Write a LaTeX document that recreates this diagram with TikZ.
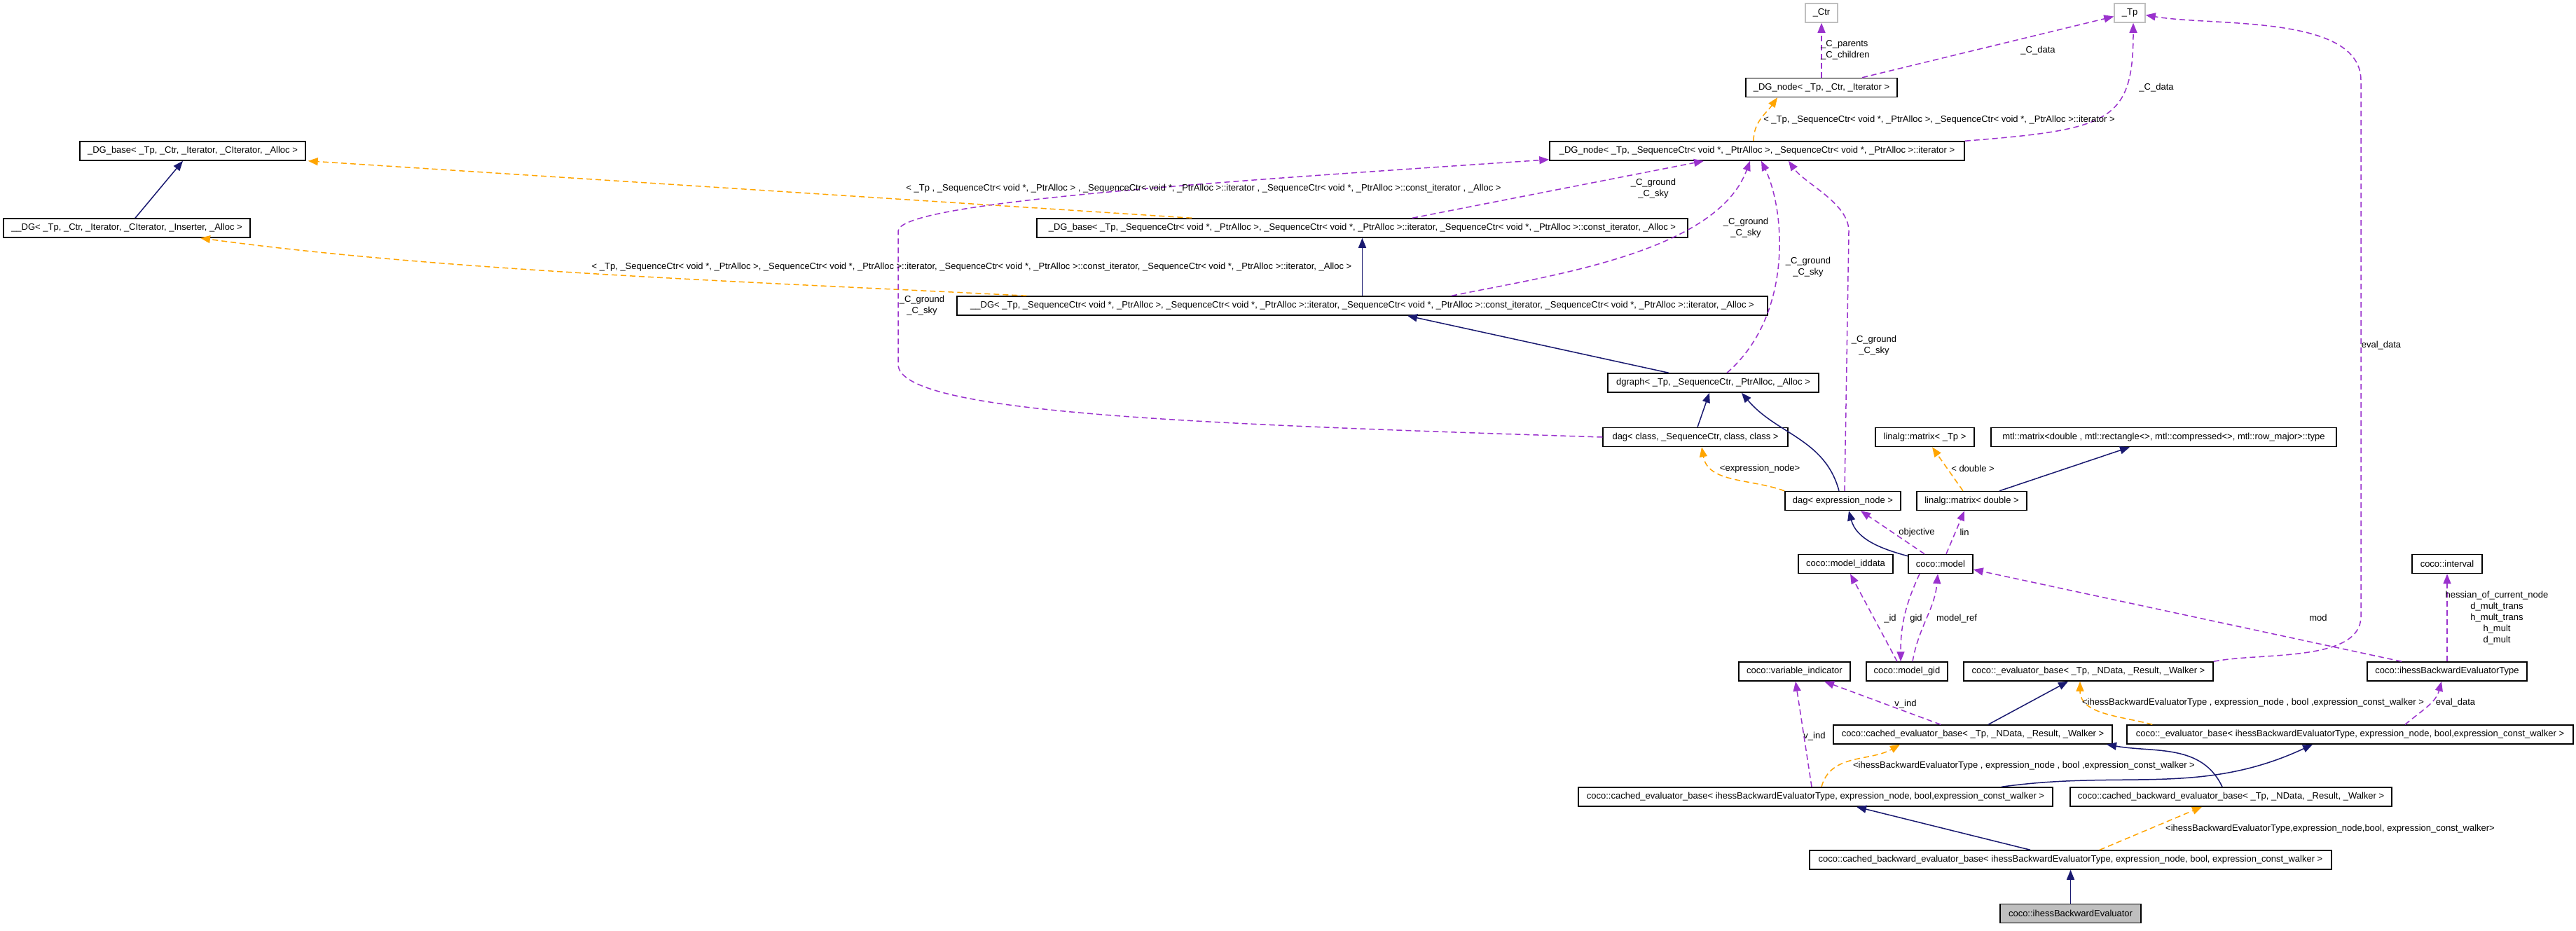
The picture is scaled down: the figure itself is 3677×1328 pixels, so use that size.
\documentclass[tikz,border=0pt]{standalone}
\usepackage{fontspec}
\setmainfont{Liberation Sans}
\definecolor{dxnavy}{RGB}{25,25,112}
\definecolor{dxpurple}{RGB}{154,50,205}
\definecolor{dxorange}{RGB}{255,165,0}
\definecolor{dxgray}{RGB}{191,191,191}
\usetikzlibrary{arrows.meta}

\begin{document}
\begin{tikzpicture}[x=1pt,y=1pt,font=\fontsize{13}{16}\selectfont,
  cls/.style={draw=black,line width=1.5pt,fill=white,minimum height=27pt,inner xsep=2pt,inner ysep=0pt},
  ext/.style={cls,draw=dxgray},
  cur/.style={cls,fill=dxgray},
  inh/.style={-{Triangle[length=14pt,width=11pt]},dxnavy,line width=1.5pt},
  tpl/.style={-{Triangle[length=14pt,width=11pt]},dxorange,line width=1.5pt,dash pattern=on 8pt off 5pt},
  member/.style={-{Triangle[length=14pt,width=11pt]},dxpurple,line width=1.5pt,dash pattern=on 8pt off 5pt},
  lbl/.style={inner sep=0pt,align=center}]
  \fill[white] (0,0) rectangle (3677,-1328);
  \useasboundingbox (0,0) rectangle (3677,-1328);

  % classes
  \node[ext,minimum width=46pt] (ctr) at (2600,-18.5) {\_Ctr};
  \node[ext,minimum width=44pt] (tp) at (3040,-18.5) {\_Tp};
  \node[cls,minimum width=216pt] (dgnodectr) at (2600,-125) {\_DG\_node< \_Tp, \_Ctr, \_Iterator >};
  \node[cls,minimum width=592pt] (dgnode) at (2508,-215.5) {\_DG\_node< \_Tp, \_SequenceCtr< void *, \_PtrAlloc >, \_SequenceCtr< void *, \_PtrAlloc >::iterator >};
  \node[cls,minimum width=322pt] (dgbase) at (275,-215.5) {\_DG\_base< \_Tp, \_Ctr, \_Iterator, \_CIterator, \_Alloc >};
  \node[cls,minimum width=352pt] (dg) at (181,-325.5) {\_\_DG< \_Tp, \_Ctr, \_Iterator, \_CIterator, \_Inserter, \_Alloc >};
  \node[cls,minimum width=929pt] (dgbaseseq) at (1944.5,-325.5) {\_DG\_base< \_Tp, \_SequenceCtr< void *, \_PtrAlloc >, \_SequenceCtr< void *, \_PtrAlloc >::iterator, \_SequenceCtr< void *, \_PtrAlloc >::const\_iterator, \_Alloc >};
  \node[cls,minimum width=1157pt] (dgseq) at (1944.5,-436.5) {\_\_DG< \_Tp, \_SequenceCtr< void *, \_PtrAlloc >, \_SequenceCtr< void *, \_PtrAlloc >::iterator, \_SequenceCtr< void *, \_PtrAlloc >::const\_iterator, \_SequenceCtr< void *, \_PtrAlloc >::iterator, \_Alloc >};
  \node[cls,minimum width=301pt] (dgraph) at (2445.5,-546.5) {dgraph< \_Tp, \_SequenceCtr, \_PtrAlloc, \_Alloc >};
  \node[cls,minimum width=264pt] (dagclass) at (2420,-624) {dag< class, \_SequenceCtr, class, class >};
  \node[cls,minimum width=165pt] (dagexpr) at (2630.5,-715) {dag< expression\_node >};
  \node[cls,minimum width=141pt] (linalgtp) at (2747.5,-624) {linalg::matrix< \_Tp >};
  \node[cls,minimum width=493pt] (mtlmatrix) at (3088.5,-624) {mtl::matrix<double , mtl::rectangle<>, mtl::compressed<>, mtl::row\_major>::type};
  \node[cls,minimum width=157pt] (linalgdbl) at (2814.5,-715) {linalg::matrix< double >};
  \node[cls,minimum width=135pt] (iddata) at (2634.5,-805) {coco::model\_iddata};
  \node[cls,minimum width=92pt] (model) at (2770,-805) {coco::model};
  \node[cls,minimum width=100pt] (interval) at (3493,-805) {coco::interval};
  \node[cls,minimum width=159pt] (varind) at (2561.5,-958.5) {coco::variable\_indicator};
  \node[cls,minimum width=116pt] (modelgid) at (2722,-958.5) {coco::model\_gid};
  \node[cls,minimum width=356pt] (evalbasetp) at (2981,-958.5) {coco::\_evaluator\_base< \_Tp, \_NData, \_Result, \_Walker >};
  \node[cls,minimum width=228pt] (ihesstype) at (3493,-958.5) {coco::ihessBackwardEvaluatorType};
  \node[cls,minimum width=398pt] (cachedtp) at (2816,-1048.5) {coco::cached\_evaluator\_base< \_Tp, \_NData, \_Result, \_Walker >};
  \node[cls,minimum width=637pt] (evalbaseih) at (3354.5,-1048.5) {coco::\_evaluator\_base< ihessBackwardEvaluatorType, expression\_node, bool,expression\_const\_walker >};
  \node[cls,minimum width=677pt] (cachedih) at (2591.5,-1137.5) {coco::cached\_evaluator\_base< ihessBackwardEvaluatorType, expression\_node, bool,expression\_const\_walker >};
  \node[cls,minimum width=459pt] (cbacktp) at (3184.5,-1137.5) {coco::cached\_backward\_evaluator\_base< \_Tp, \_NData, \_Result, \_Walker >};
  \node[cls,minimum width=745pt] (cbackih) at (2955.5,-1227.5) {coco::cached\_backward\_evaluator\_base< ihessBackwardEvaluatorType, expression\_node, bool, expression\_const\_walker >};
  \node[cur,minimum width=201pt] (ihesseval) at (2955.5,-1304) {coco::ihessBackwardEvaluator};

  % bends of the long connectors
  \coordinate (evalbend) at (3370,-880);
  \coordinate (evaltop) at (3370,-115);
  \coordinate (cgtop) at (2639,-330);
  \coordinate (cgleft) at (1282,-520);
  \coordinate (cgleftup) at (1282,-330);

  % inheritance
  \draw[inh] ([xshift=12pt]dg.north) -- ([xshift=-14pt]dgbase.south);
  \draw[inh] (dgseq.north) -- (dgbaseseq.south);
  \draw[inh] ([xshift=-63.5pt]dgraph.north) -- ([xshift=64.5pt]dgseq.south);
  \draw[inh] ([xshift=3pt]dagclass.north) -- ([xshift=-5.5pt]dgraph.south);
  \draw[inh] ([xshift=-5.5pt]dagexpr.north) to[out=105,in=-50] ([xshift=40.5pt]dgraph.south);
  \draw[inh] ([xshift=39.5pt]linalgdbl.north) -- ([xshift=-48.5pt]mtlmatrix.south);
  \draw[inh] ([yshift=-3pt]model.north west) to[out=165,in=-75] ([xshift=8.5pt]dagexpr.south);
  \draw[inh] ([xshift=22pt]cachedtp.north) -- ([xshift=-29pt]evalbasetp.south);
  \draw[inh] ([xshift=-12.5pt]cbacktp.north) to[out=115,in=-10] ([xshift=191pt]cachedtp.south);
  \draw[inh] ([xshift=265.5pt]cachedih.north) to[out=8,in=-155] ([xshift=-53.5pt]evalbaseih.south);
  \draw[inh] ([xshift=-57.5pt]cbackih.north) -- ([xshift=58.5pt]cachedih.south);
  \draw[inh] (ihesseval.north) -- (cbackih.south);

  % template instances
  \draw[tpl] ([xshift=100pt]dgseq.north west) .. controls (1111,-404) and (638,-388) .. ([xshift=105pt]dg.south);
  \draw[tpl] ([xshift=222pt]dgbaseseq.north west) -- ([xshift=3pt]dgbase.south east);
  \draw[tpl] ([xshift=-5pt]dgnode.north) to[out=90,in=-125] ([xshift=-63pt]dgnodectr.south);
  \draw[tpl] (dagexpr.north west) to[out=160,in=-80] ([xshift=9pt]dagclass.south);
  \draw[tpl] ([xshift=-12.5pt]linalgdbl.north) -- ([xshift=10.5pt]linalgtp.south);
  \draw[tpl] ([xshift=8.5pt]cachedih.north) to[out=75,in=-150] ([xshift=-104pt]cachedtp.south);
  \draw[tpl] ([xshift=37pt]evalbaseih.north west) to[out=165,in=-90] ([xshift=-12pt]evalbasetp.south);
  \draw[tpl] ([xshift=41.5pt]cbackih.north) -- ([xshift=-41.5pt]cbacktp.south);

  % members
  \draw[member] (dgnodectr.north) -- (ctr.south);
  \draw[member] ([xshift=58pt]dgnodectr.north) -- ([yshift=-5pt]tp.west);
  \draw[member] (dgnode.north east) .. controls (3010,-185) and (3045,-175) .. ([xshift=5pt]tp.south);
  \draw[member] (evalbasetp.north east) .. controls (3225,-931) and (3370,-946) .. (evalbend) -- (evaltop) .. controls (3370,-20) and (3160,-38) .. ([yshift=-3pt]tp.east);
  \draw[member] ([xshift=-65pt]ihesstype.north) -- ([yshift=-8pt]model.east);
  \draw[member] ([xshift=78.5pt]evalbaseih.north) to[out=40,in=-105] ([xshift=-8pt]ihesstype.south);
  \draw[member] (ihesstype.north) -- (interval.south);
  \draw[member] ([xshift=-46pt]cachedtp.north) -- ([xshift=42.5pt]varind.south);
  \draw[member] ([xshift=-5.5pt]cachedih.north) -- ([xshift=1.5pt]varind.south);
  \draw[member] ([xshift=-14pt]modelgid.north) -- ([xshift=6.5pt]iddata.south);
  \draw[member] ([xshift=-30pt]model.south) to[out=-115,in=90] ([xshift=-9pt]modelgid.north);
  \draw[member] ([xshift=8pt]modelgid.north) to[out=80,in=-95] ([xshift=-4pt]model.south);
  \draw[member] ([xshift=-23pt]model.north) -- ([xshift=25.5pt]dagexpr.south);
  \draw[member] ([xshift=8pt]model.north) -- ([xshift=-10.5pt]linalgdbl.south);
  \draw[member] ([xshift=2.5pt]dagexpr.north) -- (cgtop) .. controls (2639,-290) and (2576,-262) .. ([xshift=45pt]dgnode.south);
  \draw[member] ([xshift=19.5pt]dgraph.north) .. controls (2560,-450) and (2548,-300) .. ([xshift=6pt]dgnode.south);
  \draw[member] ([xshift=127.5pt]dgseq.north) .. controls (2209,-394) and (2450,-361) .. ([xshift=-10pt]dgnode.south);
  \draw[member] ([xshift=71.5pt]dgbaseseq.north) -- ([xshift=-76pt]dgnode.south);
  \draw[member] (dagclass.west) .. controls (1700,-605) and (1282,-590) .. (cgleft) -- (cgleftup) .. controls (1282,-290) and (1700,-262) .. ([yshift=2pt]dgnode.south west);

  % labels
  \node[lbl] (ldgseq) at (1387,-381) {< \_Tp, \_SequenceCtr< void *, \_PtrAlloc >, \_SequenceCtr< void *, \_PtrAlloc >::iterator, \_SequenceCtr< void *, \_PtrAlloc >::const\_iterator, \_SequenceCtr< void *, \_PtrAlloc >::iterator, \_Alloc >};
  \node[lbl] (ldgbaseseq) at (1718,-269) {< \_Tp , \_SequenceCtr< void *, \_PtrAlloc > , \_SequenceCtr< void *, \_PtrAlloc >::iterator , \_SequenceCtr< void *, \_PtrAlloc >::const\_iterator , \_Alloc >};
  \node[lbl] (ldgnode) at (2768,-171) {< \_Tp, \_SequenceCtr< void *, \_PtrAlloc >, \_SequenceCtr< void *, \_PtrAlloc >::iterator >};
  \node[lbl,align=left,anchor=west] (lparents) at (2599,-71.5) {\_C\_parents\\\_C\_children};
  \node[lbl] (ldataa) at (2909,-72) {\_C\_data};
  \node[lbl] (ldatab) at (3078,-125) {\_C\_data};
  \node[lbl] (lcga) at (2360,-269) {\_C\_ground\\\_C\_sky};
  \node[lbl] (lcgb) at (2492,-325) {\_C\_ground\\\_C\_sky};
  \node[lbl] (lcgc) at (2581,-381) {\_C\_ground\\\_C\_sky};
  \node[lbl] (lcgd) at (2675,-493) {\_C\_ground\\\_C\_sky};
  \node[lbl] (lcge) at (1316,-436) {\_C\_ground\\\_C\_sky};
  \node[lbl] (levala) at (3399,-493) {eval\_data};
  \node[lbl] (lexpr) at (2512,-669) {<expression\_node>};
  \node[lbl] (ldouble) at (2816,-669) {< double >};
  \node[lbl] (lobj) at (2736,-760) {objective};
  \node[lbl] (llin) at (2804,-760) {lin};
  \node[lbl] (lid) at (2698,-883) {\_id};
  \node[lbl] (lgid) at (2735,-883) {gid};
  \node[lbl] (lmref) at (2793,-883) {model\_ref};
  \node[lbl] (lmod) at (3309,-882) {mod};
  \node[lbl] (linterval) at (3564,-882) {hessian\_of\_current\_node\\d\_mult\_trans\\h\_mult\_trans\\h\_mult\\d\_mult};
  \node[lbl] (lvinda) at (2720,-1005) {v\_ind};
  \node[lbl] (lihessa) at (3216,-1003) {<ihessBackwardEvaluatorType , expression\_node , bool ,expression\_const\_walker >};
  \node[lbl] (levalb) at (3505,-1003) {eval\_data};
  \node[lbl] (lvindb) at (2590,-1051) {v\_ind};
  \node[lbl] (lihessb) at (2889,-1093) {<ihessBackwardEvaluatorType , expression\_node , bool ,expression\_const\_walker >};
  \node[lbl] (lihessc) at (3326,-1183) {<ihessBackwardEvaluatorType,expression\_node,bool, expression\_const\_walker>};
\end{tikzpicture}
\end{document}
